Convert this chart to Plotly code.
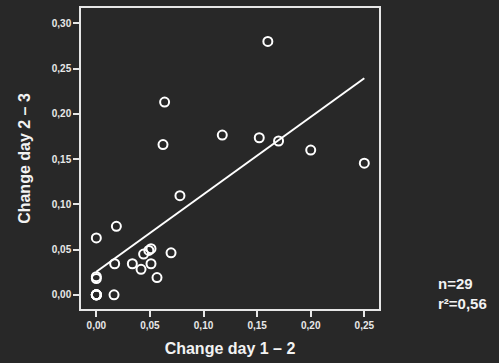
import plotly.graph_objects as go

# Data
change_day_1_2 = [0.0637, 0.0622, 0.1175, 0.160, 0.152, 0.170, 0.200, 0.250,
                  0.078, 0.0187, 0.000, 0.0171, 0.0336, 0.0417, 0.0441, 0.049,
                  0.051, 0.051, 0.0566, 0.0697, 0.000, 0.000, 0.0165,
                  0.000, 0.000, 0.000, 0.000, 0.000, 0.000]
change_day_2_3 = [0.213, 0.166, 0.1765, 0.280, 0.1736, 0.170, 0.160, 0.1455,
                  0.1096, 0.0757, 0.0629, 0.0343, 0.0343, 0.0281, 0.045, 0.049,
                  0.051, 0.0343, 0.019, 0.0464, 0.020, 0.018, 0.000,
                  0.000, 0.000, 0.000, 0.000, 0.000, 0.000]
fit_x = [0.0, 0.25]
fit_y = [0.0255, 0.2394]
tick_vals_x = [0.0, 0.05, 0.10, 0.15, 0.20, 0.25]
tick_vals_y = [0.0, 0.05, 0.10, 0.15, 0.20, 0.25, 0.30]

bg = "#282828"
fg = "#f2f2f2"
font_fam = "Liberation Sans, Arial, sans-serif"

fig = go.Figure()
fig.add_trace(go.Scatter(x=fit_x, y=fit_y, mode="lines",
                         line=dict(color="#ffffff", width=2), hoverinfo="skip"))
fig.add_trace(go.Scatter(x=change_day_1_2, y=change_day_2_3, mode="markers",
                         marker=dict(symbol="circle-open", size=9,
                                     color="#ffffff", line=dict(width=2, color="#ffffff"))))

axis_common = dict(showgrid=False, zeroline=False, showline=True, mirror=True,
                   linecolor="#e6e6e6", linewidth=1.5, ticks="outside",
                   ticklen=6, tickwidth=1.5, tickcolor="#e6e6e6",
                   tickformat=".2f",
                   tickfont=dict(family=font_fam, size=10, color="#e8e8e8", weight="bold"))

fig.update_layout(
    width=499, height=363,
    margin=dict(l=81, r=120, t=6, b=54),
    paper_bgcolor=bg, plot_bgcolor=bg,
    separators=", ",
    showlegend=False,
    xaxis=dict(range=[-0.0143, 0.2637], tickvals=tick_vals_x, **axis_common,
               title=dict(text="<b>Change day 1 – 2</b>", standoff=13,
                          font=dict(family=font_fam, size=16, color=fg))),
    yaxis=dict(range=[-0.0157, 0.317], tickvals=tick_vals_y, **axis_common,
               title=dict(text="<b>Change day 2 – 3</b>", standoff=17,
                          font=dict(family=font_fam, size=16, color=fg))),
    annotations=[
        dict(text="<b>n=29<br>r²=0,56</b>", xref="paper", yref="paper",
             x=1.19, y=0.05, xanchor="left", yanchor="middle",
             align="left", showarrow=False,
             font=dict(family=font_fam, size=15, color=fg))
    ],
)

fig.write_html("out.html")
